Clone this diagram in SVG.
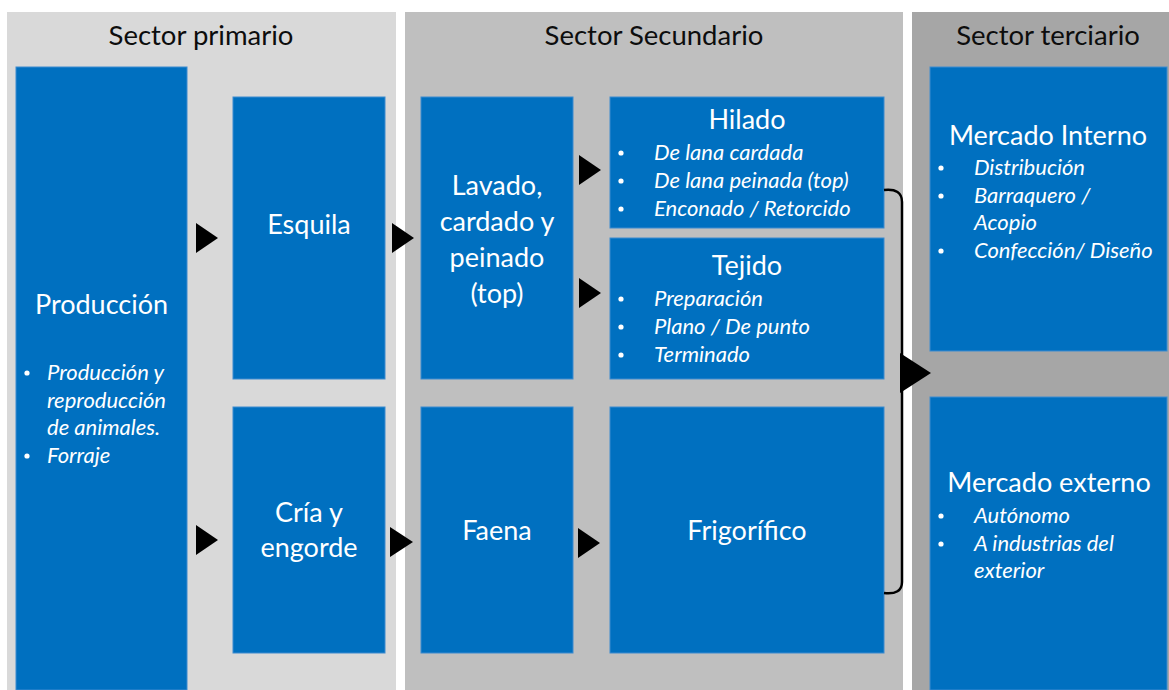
<svg xmlns="http://www.w3.org/2000/svg" width="1169" height="690" viewBox="0 0 1169 690">
<style>
.box{fill:#0070C0;stroke:#3d8bd0;stroke-width:1}
.hdr{font-family:Lato,"Open Sans",sans-serif;font-size:27.5px;fill:#0d0d0d;text-anchor:middle}
.t{font-family:Lato,"Open Sans",sans-serif;font-size:27px;fill:#fff;text-anchor:middle}
.it{font-family:Lato,"Open Sans",sans-serif;font-size:22px;fill:#fff;font-style:italic}
.bl{fill:#fff}
.ar{fill:#000}
</style>
<rect width="1169" height="690" fill="#fff"/>
<g id="panels">
<rect x="7" y="12" width="389" height="678" fill="#D9D9D9"/>
<rect x="405" y="12" width="498" height="678" fill="#BFBFBF"/>
<rect x="912" y="12" width="257" height="678" fill="#A6A6A6"/>
<text class="hdr" x="201" y="45">Sector primario</text>
<text class="hdr" x="654" y="45">Sector Secundario</text>
<text class="hdr" x="1048" y="45">Sector terciario</text>
</g>
<g id="produccion">
<rect class="box" x="16" y="67" width="171" height="623"/>
<text class="t" x="101.5" y="314">Producción</text>
<circle class="bl" cx="27" cy="373" r="2.6"/>
<circle class="bl" cx="27" cy="456" r="2.6"/>
<text class="it" x="47" y="380">Producción y</text>
<text class="it" x="47" y="408">reproducción</text>
<text class="it" x="47" y="435">de animales.</text>
<text class="it" x="47" y="463">Forraje</text>
</g>
<g id="esquila">
<rect class="box" x="233" y="97" width="152" height="282"/>
<text class="t" x="309" y="234">Esquila</text>
</g>
<g id="cria">
<rect class="box" x="233" y="407" width="152" height="246"/>
<text class="t" x="309" y="522">Cría y</text>
<text class="t" x="309" y="557">engorde</text>
</g>
<g id="lavado">
<rect class="box" x="421" y="97" width="152" height="282"/>
<text class="t" x="497" y="195">Lavado,</text>
<text class="t" x="497" y="231">cardado y</text>
<text class="t" x="497" y="267">peinado</text>
<text class="t" x="497" y="303">(top)</text>
</g>
<g id="faena">
<rect class="box" x="421" y="407" width="152" height="246"/>
<text class="t" x="497" y="540">Faena</text>
</g>
<g id="hilado">
<rect class="box" x="610" y="97" width="274" height="131"/>
<text class="t" x="747" y="129">Hilado</text>
<circle class="bl" cx="621" cy="153" r="2.6"/>
<circle class="bl" cx="621" cy="181" r="2.6"/>
<circle class="bl" cx="621" cy="209" r="2.6"/>
<text class="it" x="654" y="160">De lana cardada</text>
<text class="it" x="654" y="188">De lana peinada (top)</text>
<text class="it" x="654" y="216">Enconado / Retorcido</text>
</g>
<g id="tejido">
<rect class="box" x="610" y="238" width="274" height="141"/>
<text class="t" x="747" y="275">Tejido</text>
<circle class="bl" cx="621" cy="299" r="2.6"/>
<circle class="bl" cx="621" cy="327" r="2.6"/>
<circle class="bl" cx="621" cy="355" r="2.6"/>
<text class="it" x="654" y="306">Preparación</text>
<text class="it" x="654" y="334">Plano / De punto</text>
<text class="it" x="654" y="362">Terminado</text>
</g>
<g id="frigorifico">
<rect class="box" x="610" y="407" width="274" height="246"/>
<text class="t" x="747" y="540">Frigorífico</text>
</g>
<g id="mercado-interno">
<rect class="box" x="930" y="67" width="237" height="284"/>
<text class="t" x="1048" y="145">Mercado Interno</text>
<circle class="bl" cx="941" cy="168" r="2.6"/>
<circle class="bl" cx="941" cy="196" r="2.6"/>
<circle class="bl" cx="941" cy="251" r="2.6"/>
<text class="it" x="974" y="175">Distribución</text>
<text class="it" x="974" y="203">Barraquero /</text>
<text class="it" x="974" y="230">Acopio</text>
<text class="it" x="974" y="258">Confección/ Diseño</text>
</g>
<g id="mercado-externo">
<rect class="box" x="930" y="397" width="237" height="293"/>
<text class="t" x="1049" y="492">Mercado externo</text>
<circle class="bl" cx="941" cy="516" r="2.6"/>
<circle class="bl" cx="941" cy="544" r="2.6"/>
<text class="it" x="974" y="523">Autónomo</text>
<text class="it" x="974" y="551">A industrias del</text>
<text class="it" x="974" y="578">exterior</text>
</g>
<g id="connectors">
<polygon class="ar" points="196,223 218,238 196,253"/>
<polygon class="ar" points="196,525 218,540 196,555"/>
<polygon class="ar" points="392,223 414,238 392,253"/>
<polygon class="ar" points="390,527 413,542 390,557"/>
<polygon class="ar" points="579,155 601,170 579,185"/>
<polygon class="ar" points="579,278 601,293 579,308"/>
<polygon class="ar" points="578,528 600,543 578,558"/>
<path d="M884,190 Q902,188 902,202 L902,582 Q902,595 884,593" fill="none" stroke="#000" stroke-width="2.5"/>
<polygon class="ar" points="900,353 931,373 900,393"/>
</g>
</svg>
